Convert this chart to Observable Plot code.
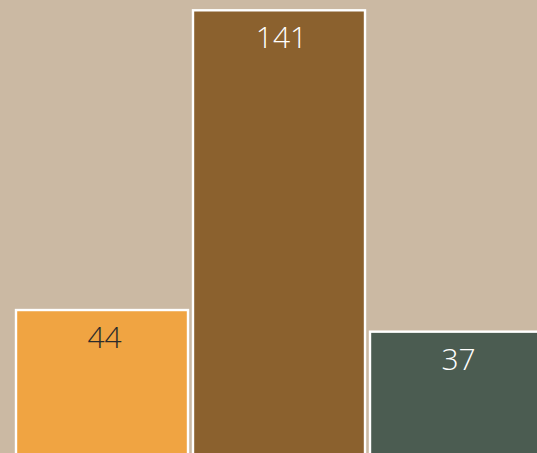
<!DOCTYPE html>
<html>
<head>
<meta charset="utf-8">
<script src="https://cdn.jsdelivr.net/npm/d3@7"></script>
<script src="https://cdn.jsdelivr.net/npm/@observablehq/plot@0.6"></script>
<style>
  html, body { margin: 0; padding: 0; background: #cbb9a3; overflow: hidden; }
  #chart svg { display: block; max-width: none !important; }
</style>
</head>
<body>
<div id="chart"></div>
<script>
const categories = ["A", "B", "C"];
const values = [44, 141, 37];
const colors = ["#f0a442", "#8b612e", "#4b5c51"];
const labelColors = ["#2b2b2b", "#ffffff", "#ffffff"];

const data = categories.map((c, i) => ({category: c, value: values[i], color: colors[i], labelColor: labelColors[i]}));

const chart = Plot.plot({
  width: 560,
  height: 453,
  marginLeft: 10,
  marginRight: 13,
  marginTop: 10.3,
  marginBottom: 7,
  style: {background: "#cbb9a3", fontFamily: "'Open Sans', sans-serif", maxWidth: "none"},
  x: {domain: categories, padding: 0.03, axis: null},
  y: {domain: [0, 141], axis: null},
  marks: [
    Plot.barY(data, {
      x: "category",
      y: "value",
      fill: "color",
      stroke: "white",
      strokeWidth: 2.4,
      insetBottom: -20
    }),
    Plot.text(data, {
      x: "category",
      y: "value",
      text: d => String(d.value),
      fill: "labelColor",
      dx: 2,
      dy: 28,
      fontSize: 30,
      fontWeight: 300
    })
  ]
});
document.getElementById("chart").append(chart);
</script>
</body>
</html>
